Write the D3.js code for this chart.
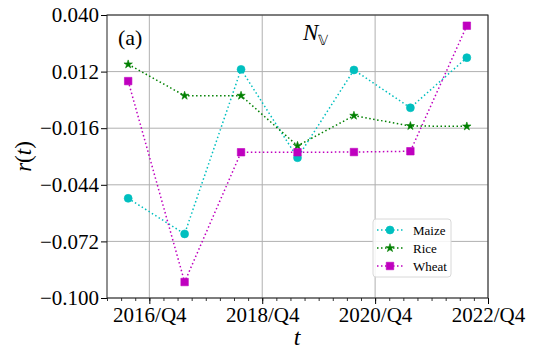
<!DOCTYPE html>
<html lang="en">
<head>
<meta charset="UTF-8">
<title>r(t) N_V</title>
<script src="https://cdn.jsdelivr.net/npm/d3@7"></script>
<style>
    body { margin: 0; background: #fff; }
</style>
</head>
<body>
<div id="chart"></div>
<script>
// data: time in fractional years (points sit mid-year)
const times = [2016.375, 2017.375, 2018.375, 2019.375, 2020.375, 2021.375, 2022.375];
const maize = [-0.0507, -0.0683, 0.0131, -0.0306, 0.0128, -0.0059, 0.0189];
const rice  = [0.0156, 0.0001, 0.0001, -0.0247, -0.0098, -0.0149, -0.0151];
const wheat = [0.0073, -0.0921, -0.0279, -0.0279, -0.0278, -0.0274, 0.0347];
const yTicks = [0.040, 0.012, -0.016, -0.044, -0.072, -0.100];
const xTicks = [2016.75, 2018.75, 2020.75, 2022.75];
const xTickLabels = ["2016/Q4", "2018/Q4", "2020/Q4", "2022/Q4"];

const series = [
    {name: "Maize", values: maize, color: "#00bfbf", shape: "circle"},
    {name: "Rice",  values: rice,  color: "#008000", shape: "star"},
    {name: "Wheat", values: wheat, color: "#bf00bf", shape: "square"}
];

var SERIF = "'Liberation Serif', 'Times New Roman', serif";
var W = 533, H = 360;
var margin = {top: 15, right: 45, bottom: 62, left: 107};
var width = W - margin.left - margin.right,
    height = H - margin.top - margin.bottom;

var svg = d3.select("#chart").append("svg")
    .attr("width", W).attr("height", H);
var g = svg.append("g")
    .attr("transform", "translate(" + margin.left + "," + margin.top + ")");

var x = d3.scaleLinear().domain([2016.0, 2022.75]).range([0, width]);
var y = d3.scaleLinear().domain([-0.100, 0.040]).range([height, 0]);

// grid
g.append("g").selectAll("line").data(yTicks).enter().append("line")
    .attr("x1", 0).attr("x2", width)
    .attr("y1", d => y(d)).attr("y2", d => y(d))
    .attr("stroke", "#b0b0b0").attr("stroke-width", 1);
g.append("g").selectAll("line").data(xTicks).enter().append("line")
    .attr("x1", d => x(d)).attr("x2", d => x(d))
    .attr("y1", 0).attr("y2", height)
    .attr("stroke", "#b0b0b0").attr("stroke-width", 1);

// axes
var fmt = d3.format(".3f");
var yAxis = g.append("g")
    .call(d3.axisLeft(y).tickValues(yTicks).tickSize(6).tickPadding(2)
        .tickFormat(d => fmt(d).replace("-", "\u2212")));
yAxis.select(".domain").remove();
yAxis.selectAll("text").style("font-size", "21px").attr("fill", "#000");
yAxis.selectAll("line").attr("stroke", "#000");

var minor = d3.range(2016.0, 2022.76, 0.25);
var xMinor = g.append("g").attr("transform", "translate(0," + height + ")")
    .call(d3.axisBottom(x).tickValues(minor).tickSize(3).tickFormat(""));
xMinor.select(".domain").remove();
xMinor.selectAll("line").attr("stroke", "#000").attr("stroke-width", 0.8);

var xAxis = g.append("g").attr("transform", "translate(0," + height + ")")
    .call(d3.axisBottom(x).tickValues(xTicks).tickSize(6).tickPadding(3)
        .tickFormat((d, i) => xTickLabels[i]));
xAxis.select(".domain").remove();
xAxis.selectAll("text").style("font-size", "21px").attr("fill", "#000");
xAxis.selectAll("line").attr("stroke", "#000");

// lines and markers
var line = d3.line().x((d, i) => x(times[i])).y(d => y(d));
var symbolOf = {circle: d3.symbolCircle, star: d3.symbolStar, square: d3.symbolSquare};
var sizeOf = {circle: 50, star: 22, square: 56};

series.forEach(function(s) {
    g.append("path")
        .datum(s.values)
        .attr("d", line)
        .attr("fill", "none")
        .attr("stroke", s.color)
        .attr("stroke-width", 1.5)
        .attr("stroke-dasharray", "1.5,2.5");
    g.append("g").selectAll("path").data(s.values).enter().append("path")
        .attr("transform", (d, i) => "translate(" + x(times[i]) + "," + y(d) + ")")
        .attr("d", d3.symbol().type(symbolOf[s.shape]).size(sizeOf[s.shape]))
        .attr("fill", s.color)
        .attr("stroke", s.color).attr("stroke-width", 0.6);
});

// frame
g.append("rect").attr("width", width).attr("height", height)
    .attr("fill", "none").attr("stroke", "#222").attr("stroke-width", 1);

// annotations
g.append("text").attr("x", 11).attr("y", 30).style("font-size", "22px").text("(a)");
var title = g.append("text").attr("x", 196).attr("y", 25).style("font-size", "23px");
title.append("tspan").style("font-style", "italic").text("N");
title.append("tspan").attr("dy", 5).style("font-size", "14px").text("\uD835\uDD4D");

// axis labels
var yl = svg.append("text")
    .attr("transform", "translate(31," + (margin.top + height / 2) + ") rotate(-90)")
    .attr("text-anchor", "middle")
    .style("font-size", "23px");
yl.append("tspan").style("font-style", "italic").text("r");
yl.append("tspan").text("(");
yl.append("tspan").style("font-style", "italic").text("t");
yl.append("tspan").text(")");
svg.append("text")
    .attr("x", margin.left + 190).attr("y", 345)
    .attr("text-anchor", "middle")
    .style("font-size", "24px").style("font-style", "italic")
    .text("t");

// legend
var lg = svg.append("g").attr("transform", "translate(373,219)");
lg.append("rect").attr("width", 78).attr("height", 58).attr("rx", 3)
    .attr("fill", "#fff").attr("fill-opacity", 0.85)
    .attr("stroke", "#d8d8d8").attr("stroke-width", 1);
series.forEach(function(s, i) {
    var yy = 11 + i * 18;
    lg.append("line").attr("x1", 4).attr("x2", 30).attr("y1", yy).attr("y2", yy)
        .attr("stroke", s.color).attr("stroke-width", 1.5).attr("stroke-dasharray", "1.5,2.5");
    lg.append("path").attr("transform", "translate(17," + yy + ")")
        .attr("d", d3.symbol().type(symbolOf[s.shape]).size(sizeOf[s.shape]))
        .attr("fill", s.color)
        .attr("stroke", s.color).attr("stroke-width", 0.6);
    lg.append("text").attr("x", 40).attr("y", yy + 4.5)
        .style("font-size", "13px").text(s.name);
});

svg.selectAll("text").style("font-family", SERIF);
</script>
</body>
</html>
